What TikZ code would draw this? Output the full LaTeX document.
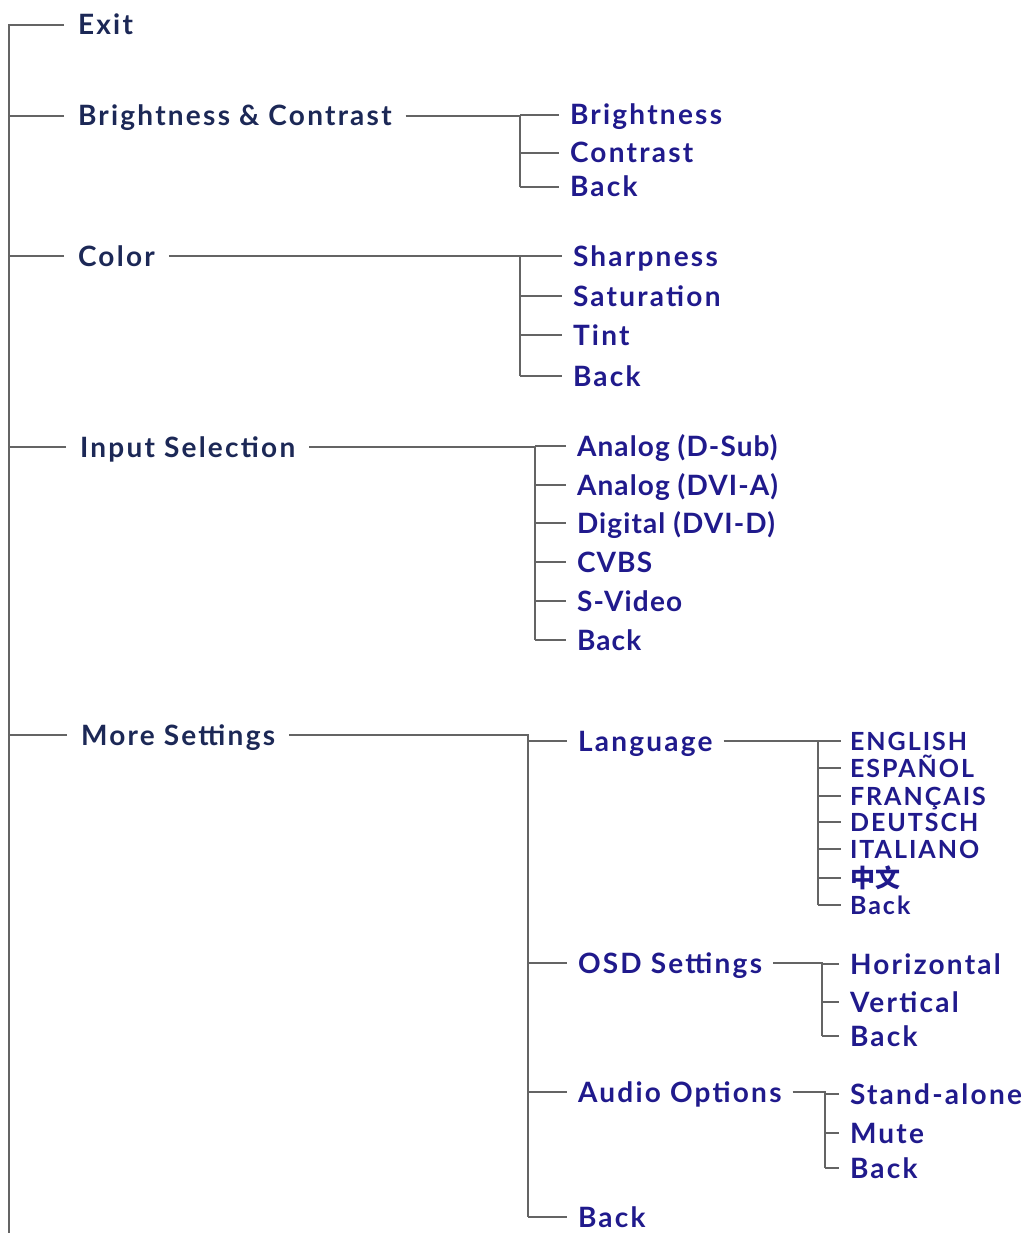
\documentclass[tikz,border=0pt]{standalone}
\usepackage{fontspec}
\setmainfont{Lato}
\newfontfamily\cjk{Noto Sans CJK SC}
\usepackage{tikz}
\definecolor{menunavy}{RGB}{28,40,86}
\definecolor{menublue}{RGB}{32,26,140}
\definecolor{treegray}{RGB}{100,100,100}

\begin{document}
\begin{tikzpicture}[x=1pt,y=-1pt]
\tikzstyle{menunode} = [anchor=west,inner sep=0pt,outer xsep=14pt,text height=20pt,text depth=0pt,color=menunavy,font=\fontsize{28}{30}\selectfont\bfseries\addfontfeature{LetterSpace=8}]
\tikzstyle{itemnode} = [anchor=west,inner sep=0pt,outer xsep=11pt,text height=20pt,text depth=0pt,color=menublue,font=\fontsize{28}{30}\selectfont\bfseries\addfontfeature{LetterSpace=8}]
\tikzstyle{tightnode} = [itemnode,font=\fontsize{28}{30}\selectfont\bfseries\addfontfeature{LetterSpace=4}]
\tikzstyle{leafnode} = [itemnode,outer xsep=9pt,text height=18pt,font=\fontsize{25}{27}\selectfont\bfseries\addfontfeature{LetterSpace=8}]
\tikzstyle{branch} = [draw=treegray,line width=2pt]

\useasboundingbox (0,0) rectangle (1024,1233);

\node[menunode] (exit) at (64,25) {Exit};
\node[menunode] (bc) at (64,116) {Brightness \& Contrast};
\node[menunode] (color) at (64,256) {Color};
\node[menunode] (input) at (66,447) {Input Selection};
\node[menunode] (more) at (67,735) {More Settings};

\node[itemnode] (bcbright) at (559,115) {Brightness};
\node[itemnode] (bccontrast) at (559,153) {Contrast};
\node[itemnode] (bcback) at (559,187) {Back};

\node[itemnode] (colsharp) at (562,256) {Sharpness};
\node[itemnode] (colsat) at (562,296) {Saturation};
\node[itemnode] (coltint) at (562,335) {Tint};
\node[itemnode] (colback) at (562,376) {Back};

\node[tightnode] (indsub) at (566,446) {Analog (D-Sub)};
\node[tightnode] (indvia) at (566,485) {Analog (DVI-A)};
\node[tightnode] (indvid) at (566,523) {Digital (DVI-D)};
\node[tightnode] (incvbs) at (566,562) {CVBS};
\node[tightnode] (insvideo) at (566,601) {S-Video};
\node[tightnode] (inback) at (566,640) {Back};

\node[itemnode] (morelang) at (567,741) {Language};
\node[itemnode] (moreosd) at (567,963) {OSD Settings};
\node[itemnode] (moreaudio) at (567,1092) {Audio Options};
\node[itemnode] (moreback) at (567,1217) {Back};

\node[leafnode] (langen) at (841,741) {ENGLISH};
\node[leafnode] (langes) at (841,768) {ESPAÑOL};
\node[leafnode] (langfr) at (841,796) {FRANÇAIS};
\node[leafnode] (langde) at (841,822) {DEUTSCH};
\node[leafnode] (langit) at (841,849) {ITALIANO};
\node[leafnode] (langzh) at (841,878) {\cjk 中文};
\node[leafnode] (langback) at (841,905) {Back};

\node[itemnode] (osdhor) at (839,964) {Horizontal};
\node[itemnode] (osdver) at (839,1002) {Vertical};
\node[itemnode] (osdback) at (839,1036) {Back};

\node[itemnode] (audstand) at (839,1094) {Stand-alone};
\node[itemnode] (audmute) at (839,1133) {Mute};
\node[itemnode] (audback) at (839,1168) {Back};

\coordinate (trunkend) at (9,1233);
\coordinate (bcj) at (520,0);
\coordinate (colj) at (520,0);
\coordinate (inj) at (535,0);
\coordinate (morej) at (528,0);
\coordinate (langj) at (818,0);
\coordinate (osdj) at (822,0);
\coordinate (audj) at (825,0);

\draw[branch] (exit.west) -| (trunkend);
\foreach \m in {bc,color,input,more}
  \draw[branch] (\m.west) -- (\m.west -| trunkend);

\draw[branch] (bc.east) -| (bcj |- bcback.west);
\foreach \c in {bcbright,bccontrast,bcback}
  \draw[branch] (bcj |- \c.west) -- (\c.west);

\draw[branch] (color.east) -| (colj |- colback.west);
\foreach \c in {colsharp,colsat,coltint,colback}
  \draw[branch] (colj |- \c.west) -- (\c.west);

\draw[branch] (input.east) -| (inj |- inback.west);
\foreach \c in {indsub,indvia,indvid,incvbs,insvideo,inback}
  \draw[branch] (inj |- \c.west) -- (\c.west);

\draw[branch] (more.east) -| (morej |- moreback.west);
\foreach \c in {morelang,moreosd,moreaudio,moreback}
  \draw[branch] (morej |- \c.west) -- (\c.west);

\draw[branch] (morelang.east) -| (langj |- langback.west);
\foreach \c in {langen,langes,langfr,langde,langit,langzh,langback}
  \draw[branch] (langj |- \c.west) -- (\c.west);

\draw[branch] (moreosd.east) -| (osdj |- osdback.west);
\foreach \c in {osdhor,osdver,osdback}
  \draw[branch] (osdj |- \c.west) -- (\c.west);

\draw[branch] (moreaudio.east) -| (audj |- audback.west);
\foreach \c in {audstand,audmute,audback}
  \draw[branch] (audj |- \c.west) -- (\c.west);
\end{tikzpicture}
\end{document}
